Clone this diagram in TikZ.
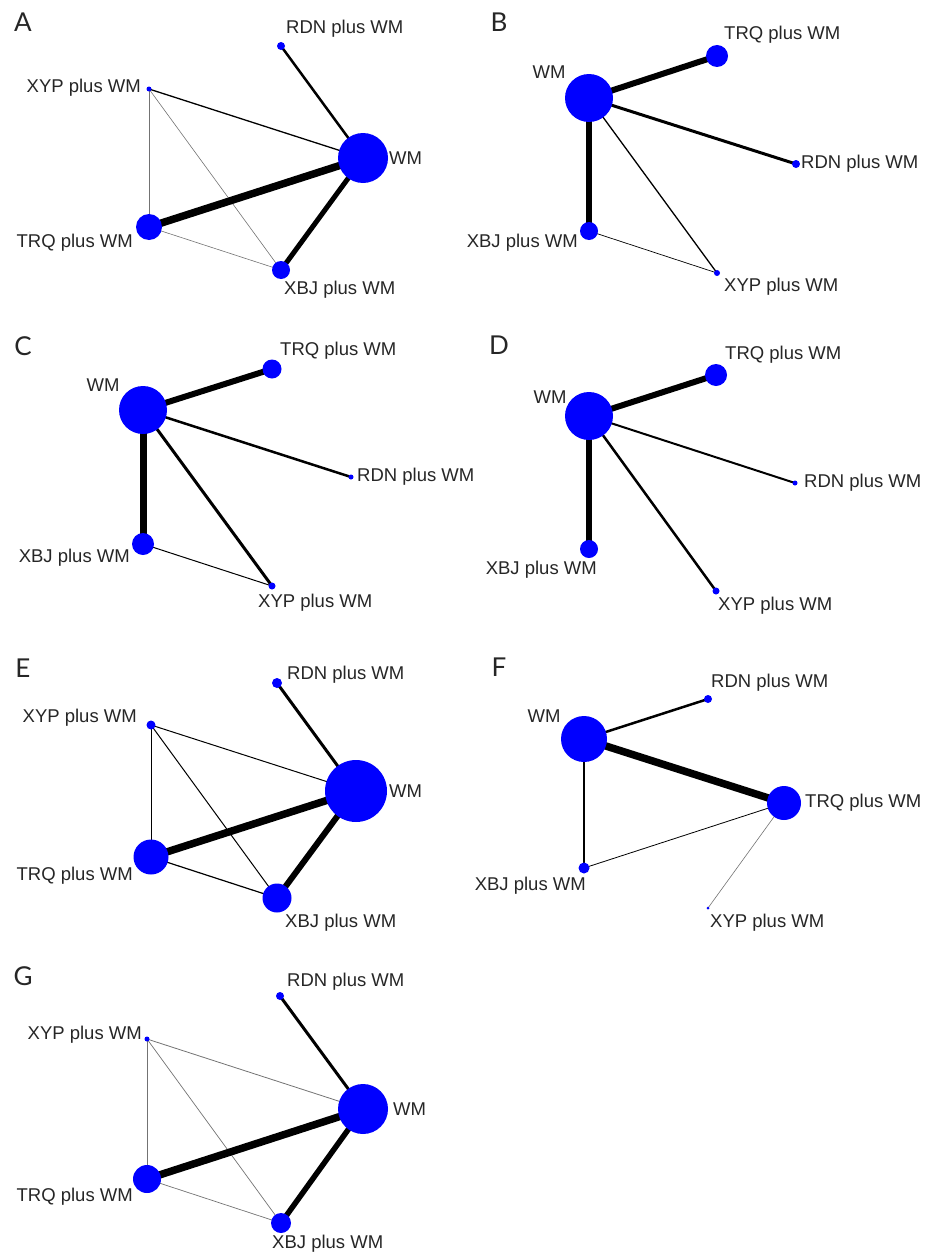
\documentclass[tikz,border=0pt]{standalone}
\usepackage{fontspec}
\setmainfont{Liberation Sans}
\newfontfamily\panelfont{Lato}
\usetikzlibrary{backgrounds}

\begin{document}
\begin{tikzpicture}[x=1pt,y=-1pt]

                \tikzset{trt/.style = {shape=circle,fill=blue,inner sep=0pt,minimum size=#1}}
                \tikzset{lab/.style = {inner sep=0pt,text=black!85,font=\fontsize{18.5}{21}\selectfont}}
                \tikzset{panel/.style = {inner sep=0pt,text=black!85,font=\panelfont\fontsize{26}{29}\selectfont}}
                \tikzset{edge/.style = {line width=#1}}
                \tikzset{faint/.style = {line width=#1,black!55}}

                \useasboundingbox (0,0) rectangle (924,1255);

                % A
                \node[panel] (pA) at (23,22) {A};
                \node[trt=8]  (aRDN) at (281,46) {};
                \node[trt=5]  (aXYP) at (149,89) {};
                \node[trt=50] (aWM)  at (363,158) {};
                \node[trt=26] (aTRQ) at (149,227) {};
                \node[trt=18] (aXBJ) at (281,270) {};
                \node[lab,anchor=west] (aRDNl) at (286,29)  {RDN plus WM};
                \node[lab,anchor=east] (aXYPl) at (141,88)  {XYP plus WM};
                \node[lab,anchor=west] (aWMl)  at (389,158) {WM};
                \node[lab,anchor=east] (aTRQl) at (133,243) {TRQ plus WM};
                \node[lab,anchor=west] (aXBJl) at (284,290) {XBJ plus WM};
                \begin{pgfonlayer}{background}
                \draw[edge=2.5] (aRDN.center) -- (aWM.center);
                \draw[edge=1.3] (aXYP.center) -- (aWM.center);
                \draw[faint=0.6] (aXYP.center) -- (aTRQ.center);
                \draw[faint=0.6] (aXYP.center) -- (aXBJ.center);
                \draw[faint=0.6] (aTRQ.center) -- (aXBJ.center);
                \draw[edge=7.5] (aTRQ.center) -- (aWM.center);
                \draw[edge=5] (aXBJ.center) -- (aWM.center);
                \end{pgfonlayer}

                % B
                \node[panel] (pB) at (499,22) {B};
                \node[trt=48] (bWM)  at (589,98) {};
                \node[trt=22] (bTRQ) at (717,56) {};
                \node[trt=8]  (bRDN) at (796,164) {};
                \node[trt=18] (bXBJ) at (589,231) {};
                \node[trt=6]  (bXYP) at (717,273) {};
                \node[lab] (bWMl) at (549,72) {WM};
                \node[lab,anchor=west] (bTRQl) at (724,35)  {TRQ plus WM};
                \node[lab,anchor=west] (bRDNl) at (801,164) {RDN plus WM};
                \node[lab,anchor=east] (bXBJl) at (578,243) {XBJ plus WM};
                \node[lab,anchor=west] (bXYPl) at (724,287) {XYP plus WM};
                \begin{pgfonlayer}{background}
                \draw[edge=6] (bWM.center) -- (bTRQ.center);
                \draw[edge=3] (bWM.center) -- (bRDN.center);
                \draw[edge=5.5] (bWM.center) -- (bXBJ.center);
                \draw[edge=1.3] (bWM.center) -- (bXYP.center);
                \draw[edge=0.7] (bXBJ.center) -- (bXYP.center);
                \end{pgfonlayer}

                % C
                \node[panel] (pC) at (23,346) {C};
                \node[trt=48] (cWM)  at (143,410) {};
                \node[trt=19] (cTRQ) at (272,369) {};
                \node[trt=5]  (cRDN) at (351,477) {};
                \node[trt=22] (cXBJ) at (143,544) {};
                \node[trt=7]  (cXYP) at (272,586) {};
                \node[lab] (cWMl) at (103,385) {WM};
                \node[lab,anchor=west] (cTRQl) at (280,351) {TRQ plus WM};
                \node[lab,anchor=west] (cRDNl) at (357,477) {RDN plus WM};
                \node[lab,anchor=east] (cXBJl) at (130,558) {XBJ plus WM};
                \node[lab,anchor=west] (cXYPl) at (258,603) {XYP plus WM};
                \begin{pgfonlayer}{background}
                \draw[edge=6] (cWM.center) -- (cTRQ.center);
                \draw[edge=2.5] (cWM.center) -- (cRDN.center);
                \draw[edge=7] (cWM.center) -- (cXBJ.center);
                \draw[edge=3] (cWM.center) -- (cXYP.center);
                \draw[edge=1] (cXBJ.center) -- (cXYP.center);
                \end{pgfonlayer}

                % D
                \node[panel] (pD) at (499,345) {D};
                \node[trt=48] (dWM)  at (589,416) {};
                \node[trt=22] (dTRQ) at (716,375) {};
                \node[trt=5]  (dRDN) at (795,483) {};
                \node[trt=18] (dXBJ) at (589,549) {};
                \node[trt=7]  (dXYP) at (716,591) {};
                \node[lab] (dWMl) at (550,397) {WM};
                \node[lab,anchor=west] (dTRQl) at (725,355) {TRQ plus WM};
                \node[lab,anchor=west] (dRDNl) at (804,483) {RDN plus WM};
                \node[lab,anchor=east] (dXBJl) at (597,570) {XBJ plus WM};
                \node[lab,anchor=west] (dXYPl) at (718,606) {XYP plus WM};
                \begin{pgfonlayer}{background}
                \draw[edge=6] (dWM.center) -- (dTRQ.center);
                \draw[edge=2] (dWM.center) -- (dRDN.center);
                \draw[edge=5.5] (dWM.center) -- (dXBJ.center);
                \draw[edge=2.5] (dWM.center) -- (dXYP.center);
                \end{pgfonlayer}

                % E
                \node[panel] (pE) at (23,668) {E};
                \node[trt=10] (eRDN) at (277,683) {};
                \node[trt=9]  (eXYP) at (151,725) {};
                \node[trt=62] (eWM)  at (356,791) {};
                \node[trt=35] (eTRQ) at (151,857) {};
                \node[trt=29] (eXBJ) at (277,898) {};
                \node[lab,anchor=west] (eRDNl) at (287,675) {RDN plus WM};
                \node[lab,anchor=east] (eXYPl) at (137,718) {XYP plus WM};
                \node[lab,anchor=west] (eWMl)  at (389,791) {WM};
                \node[lab,anchor=east] (eTRQl) at (133,876) {TRQ plus WM};
                \node[lab,anchor=west] (eXBJl) at (285,923) {XBJ plus WM};
                \begin{pgfonlayer}{background}
                \draw[edge=3] (eRDN.center) -- (eWM.center);
                \draw[edge=1] (eXYP.center) -- (eWM.center);
                \draw[edge=1] (eXYP.center) -- (eTRQ.center);
                \draw[edge=1] (eXYP.center) -- (eXBJ.center);
                \draw[edge=1.2] (eTRQ.center) -- (eXBJ.center);
                \draw[edge=7.5] (eTRQ.center) -- (eWM.center);
                \draw[edge=6] (eXBJ.center) -- (eWM.center);
                \end{pgfonlayer}

                % F
                \node[panel] (pF) at (499,667) {F};
                \node[trt=46] (fWM)  at (584,739) {};
                \node[trt=8]  (fRDN) at (708,699) {};
                \node[trt=34] (fTRQ) at (784,803) {};
                \node[trt=11] (fXBJ) at (584,868) {};
                \node[trt=3]  (fXYP) at (708,908) {};
                \node[lab] (fWMl) at (544,716) {WM};
                \node[lab,anchor=west] (fRDNl) at (711,683) {RDN plus WM};
                \node[lab,anchor=west] (fTRQl) at (805,803) {TRQ plus WM};
                \node[lab,anchor=east] (fXBJl) at (586,886) {XBJ plus WM};
                \node[lab,anchor=west] (fXYPl) at (710,923) {XYP plus WM};
                \begin{pgfonlayer}{background}
                \draw[edge=2.5] (fWM.center) -- (fRDN.center);
                \draw[edge=7.5] (fWM.center) -- (fTRQ.center);
                \draw[edge=2] (fWM.center) -- (fXBJ.center);
                \draw[edge=0.8] (fXBJ.center) -- (fTRQ.center);
                \draw[faint=0.6] (fTRQ.center) -- (fXYP.center);
                \end{pgfonlayer}

                % G
                \node[panel] (pG) at (23,976) {G};
                \node[trt=8]  (gRDN) at (280,996) {};
                \node[trt=5]  (gXYP) at (147,1039) {};
                \node[trt=50] (gWM)  at (363,1109) {};
                \node[trt=28] (gTRQ) at (147,1179) {};
                \node[trt=20] (gXBJ) at (281,1223) {};
                \node[lab,anchor=west] (gRDNl) at (287,982)  {RDN plus WM};
                \node[lab,anchor=east] (gXYPl) at (142,1035) {XYP plus WM};
                \node[lab,anchor=west] (gWMl)  at (393,1109) {WM};
                \node[lab,anchor=east] (gTRQl) at (133,1197) {TRQ plus WM};
                \node[lab,anchor=west] (gXBJl) at (272,1244) {XBJ plus WM};
                \begin{pgfonlayer}{background}
                \draw[edge=3] (gRDN.center) -- (gWM.center);
                \draw[faint=0.8] (gXYP.center) -- (gWM.center);
                \draw[faint=0.6] (gXYP.center) -- (gTRQ.center);
                \draw[faint=0.7] (gXYP.center) -- (gXBJ.center);
                \draw[faint=0.7] (gTRQ.center) -- (gXBJ.center);
                \draw[edge=7.5] (gTRQ.center) -- (gWM.center);
                \draw[edge=5.5] (gXBJ.center) -- (gWM.center);
                \end{pgfonlayer}

\end{tikzpicture}
\end{document}
